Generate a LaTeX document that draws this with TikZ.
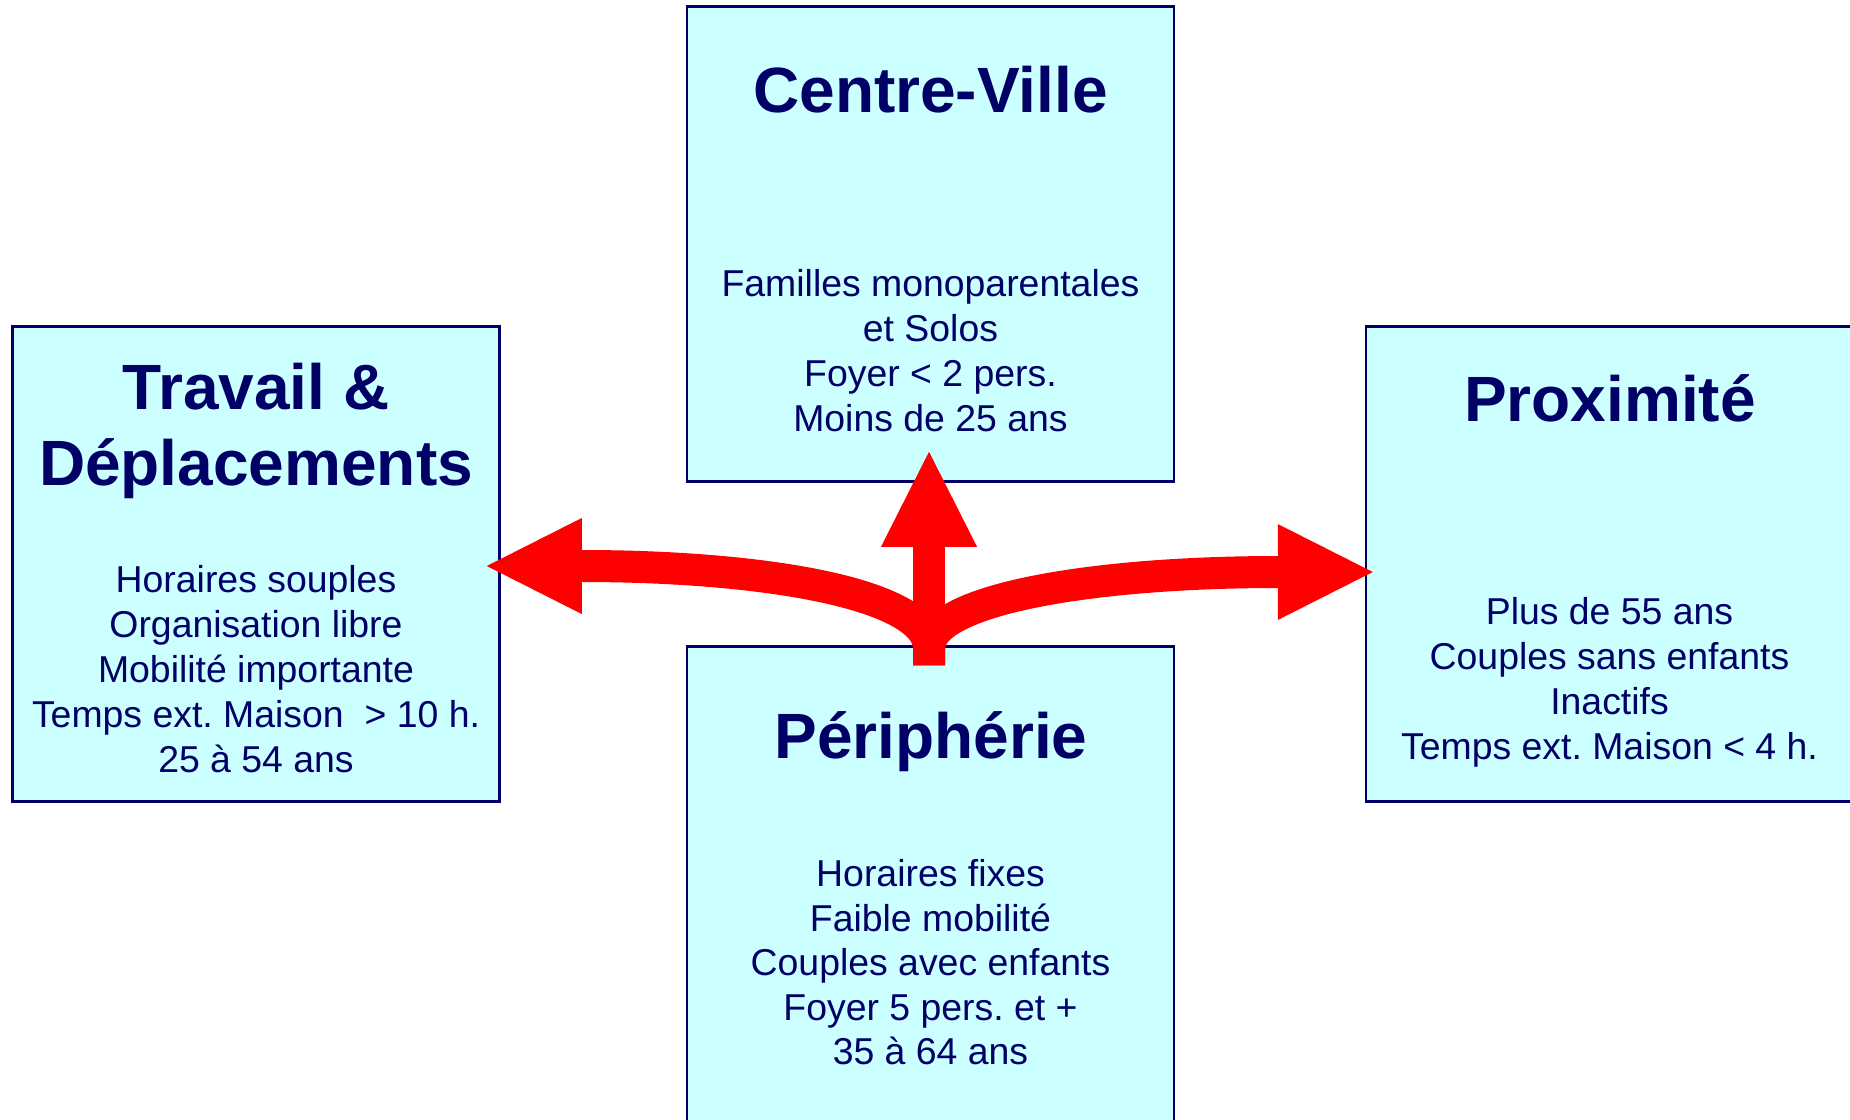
\documentclass[tikz,border=0pt]{standalone}
\usepackage{fontspec}
\setmainfont{Liberation Sans}
\usetikzlibrary{arrows.meta,calc}
\definecolor{boxfill}{RGB}{204,255,255}
\definecolor{navy}{RGB}{0,0,102}
\definecolor{arrowred}{RGB}{255,0,0}
\frenchspacing
\begin{document}
\begin{tikzpicture}[x=0.5pt,y=-0.5pt,
  zone/.style={draw=navy, fill=boxfill, line width=1.25pt, minimum width=243.5pt, minimum height=237.5pt, inner sep=0pt},
  ttl/.style={anchor=base, text=navy, font=\fontsize{32}{38}\selectfont\bfseries, inner sep=0pt},
  txt/.style={anchor=base, text=navy, font=\fontsize{18.7}{22.5}\selectfont, inner sep=0pt},
  flow/.style={draw=arrowred, line width=16pt, -{Triangle[length=47.5pt,width=48pt,line width=0pt]}}
]
\useasboundingbox (0,0) rectangle (1850,1119);
\clip (0,0) rectangle (1850,1119);

% boxes
\node[zone] (cv) at (930.5,244) {};
\node[zone] (tr) at (256,564) {};
\node[zone] (px) at (1609.5,564) {};
\node[zone] (pe) at (930.5,884) {};

% titles
\node[ttl] (cvt) at (930.5,112) {Centre-Ville};
\node[ttl] (trt1) at (256,409) {Travail \&};
\node[ttl] (trt2) at (256,485) {Déplacements};
\node[ttl] (pxt) at (1610,421) {Proximité};
\node[ttl] (pet) at (931,758) {Périphérie};

% Centre-Ville body
\node[txt] (cvb1) at (930.5,296) {Familles monoparentales};
\node[txt] (cvb2) at (930.5,341) {et Solos};
\node[txt] (cvb3) at (930.5,386) {Foyer < 2 pers.};
\node[txt] (cvb4) at (930.5,431) {Moins de 25 ans};

% Travail body
\node[txt] (trb1) at (256,592) {Horaires souples};
\node[txt] (trb2) at (256,637) {Organisation libre};
\node[txt] (trb3) at (256,682) {Mobilité importante};
\node[txt] (trb4) at (256,727) {Temps ext. Maison\ \ > 10 h.};
\node[txt] (trb5) at (256,772) {25 à 54 ans};

% Proximite body
\node[txt] (pxb1) at (1609.5,624) {Plus de 55 ans};
\node[txt] (pxb2) at (1609.5,669) {Couples sans enfants};
\node[txt] (pxb3) at (1609.5,714) {Inactifs};
\node[txt] (pxb4) at (1609.5,759) {Temps ext. Maison < 4 h.};

% Peripherie body
\node[txt] (peb1) at (930.5,886) {Horaires fixes};
\node[txt] (peb2) at (930.5,931) {Faible mobilité};
\node[txt] (peb3) at (930.5,975) {Couples avec enfants};
\node[txt] (peb4) at (930.5,1020) {Foyer 5 pers. et +};
\node[txt] (peb5) at (930.5,1064) {35 à 64 ans};

% arrows
\coordinate (root) at ($(pe.north)+(-1.5,20)$);
\coordinate (upTip) at ($(cv.south)+(-1.5,-31)$);
\coordinate (leftTip) at ($(tr.east)+(-14,2)$);
\coordinate (rightTip) at ($(px.west)+(8,8)$);

\draw[flow] (root) -- (upTip);
\draw[flow] (root) -- ++(0,-17) .. controls +(0,-55) and +(275,0) .. (leftTip);
\draw[flow] (root) -- ++(0,-17) .. controls +(0,-50) and +(-275,0) .. (rightTip);
\end{tikzpicture}
\end{document}
